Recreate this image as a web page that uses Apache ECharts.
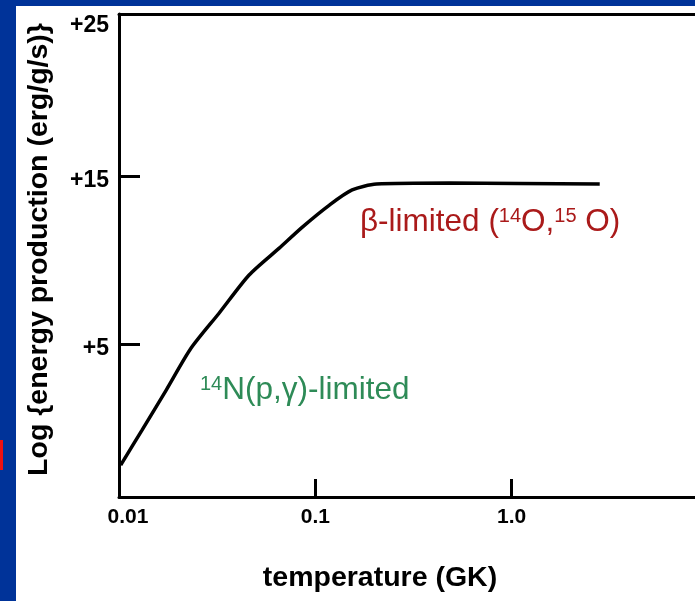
<!DOCTYPE html>
<html><head><meta charset="utf-8">
<script src="https://cdn.jsdelivr.net/npm/echarts@6/dist/echarts.min.js"></script>
<style>
html,body{margin:0;padding:0;width:695px;height:601px;overflow:hidden;background:#003399;}
#bgw{position:absolute;left:16px;top:6px;width:679px;height:595px;background:#fff;}
#red{position:absolute;left:0;top:440px;width:3px;height:30px;background:#ee1111;}
#c{position:absolute;left:0;top:0;width:695px;height:601px;}
</style></head>
<body>
<div id="bgw"></div><div id="red"></div>
<div id="c"></div>
<script>
// Data
const temperatureGK = [0.0102, 0.0131, 0.0174, 0.0233, 0.0324, 0.046, 0.0655, 0.0859, 0.118, 0.154, 0.205, 0.483, 2.81];
const logEnergy = [-2.2, -0.12, 2.26, 4.76, 6.85, 9.11, 10.71, 11.96, 13.27, 14.17, 14.52, 14.58, 14.52];
const xTickValues = [0.01, 0.1, 1];
const xTickLabels = ['0.01', '0.1', '1.0'];
const yTickValues = [5, 15, 25];
const yTickLabels = ['+5', '+15', '+25'];
const xAxisTitle = 'temperature (GK)';
const yAxisTitle = 'Log {energy production (erg/g/s)}';

const FONT = '"Liberation Sans", Arial, Helvetica, sans-serif';
const Y_MIN = -4.1, Y_MAX = 24.64;
const X_MIN = 0.01, X_MAX = 8.59;

const chart = echarts.init(document.getElementById('c'), null, {renderer: 'canvas'});

const seriesData = temperatureGK.map((t, i) => [t, logEnergy[i]]);

function xLabel(v) {
  for (let i = 0; i < xTickValues.length; i++) {
    if (Math.abs(Math.log10(v) - Math.log10(xTickValues[i])) < 1e-6) {
      return i === 0 ? '{first|' + xTickLabels[i] + '}' : xTickLabels[i];
    }
  }
  return '';
}
function yLabel(v) {
  for (let i = 0; i < yTickValues.length; i++) if (Math.abs(v - yTickValues[i]) < 1e-6) return '{y|' + yTickLabels[i] + '}';
  return '';
}

const option = {
  backgroundColor: 'transparent',
  animation: false,
  grid: {left: 119, top: 14, right: 0, bottom: 104, containLabel: false},
  xAxis: [{
    type: 'log', logBase: 10, min: X_MIN, max: X_MAX, position: 'bottom',
    name: xAxisTitle, nameLocation: 'middle', nameGap: 67,
    nameTextStyle: {fontFamily: FONT, fontWeight: 'bold', fontSize: 28.5, color: '#000', padding: [0, 54, 0, 0]},
    axisLine: {show: true, onZero: false, lineStyle: {color: '#000', width: 3}},
    axisTick: {show: true, inside: true, length: 18, customValues: xTickValues.slice(1), lineStyle: {color: '#000', width: 3}},
    axisLabel: {show: true, customValues: xTickValues, formatter: xLabel, margin: 10,
      fontFamily: FONT, fontWeight: 'bold', fontSize: 21, color: '#000',
      rich: {first: {fontFamily: FONT, fontWeight: 'bold', fontSize: 21, color: '#000', padding: [0, 0, 0, 18]}}},
    splitLine: {show: false}, minorTick: {show: false}
  }, {
    type: 'log', logBase: 10, min: X_MIN, max: X_MAX, position: 'top',
    axisLine: {show: true, onZero: false, lineStyle: {color: '#000', width: 3}},
    axisTick: {show: false}, axisLabel: {show: false}, splitLine: {show: false}
  }],
  yAxis: {
    type: 'value', min: Y_MIN, max: Y_MAX,
    name: yAxisTitle, nameLocation: 'middle', nameGap: 65, nameRotate: 90,
    nameTextStyle: {fontFamily: FONT, fontWeight: 'bold', fontSize: 28.5, color: '#000', padding: [0, 0, 0, 12]},
    axisLine: {show: true, onZero: false, lineStyle: {color: '#000', width: 3}},
    axisTick: {show: true, inside: true, length: 21, customValues: yTickValues.slice(0, 2), lineStyle: {color: '#000', width: 3}},
    axisLabel: {show: true, customValues: yTickValues.slice(0, 2), formatter: yLabel, margin: 10,
      fontFamily: FONT, fontWeight: 'bold', fontSize: 23, color: '#000', verticalAlign: 'middle',
      rich: {y: {fontFamily: FONT, fontWeight: 'bold', fontSize: 23, color: '#000', padding: [9, 0, 0, 0]}}},
    splitLine: {show: false}
  },
  series: [{
    type: 'line', xAxisIndex: 0, data: seriesData, showSymbol: false, smooth: 0.25,
    lineStyle: {color: '#000', width: 3.5}
  }],
  graphic: [
    {type: 'text', x: 109, y: 26, style: {text: yTickLabels[2], align: 'right', verticalAlign: 'middle',
      font: 'bold 23px ' + FONT, fill: '#000'}},
    {type: 'text', x: 360, y: 222, style: {
      text: 'β-limited ({s|14}O,{s|15} O)',
      verticalAlign: 'middle', font: '31.5px ' + FONT, fill: '#aa1a1a',
      rich: {s: {fontSize: 20, fontFamily: FONT, fill: '#aa1a1a', verticalAlign: 'top', padding: [0, 0, 8, 0]}}
    }},
    {type: 'text', x: 200, y: 390, style: {
      text: '{s|14}N(p,γ)-limited',
      verticalAlign: 'middle', font: '31.5px ' + FONT, fill: '#2e8b57',
      rich: {s: {fontSize: 20, fontFamily: FONT, fill: '#2e8b57', verticalAlign: 'top', padding: [0, 0, 8, 0]}}
    }}
  ]
};
chart.setOption(option);
</script>
</body></html>
